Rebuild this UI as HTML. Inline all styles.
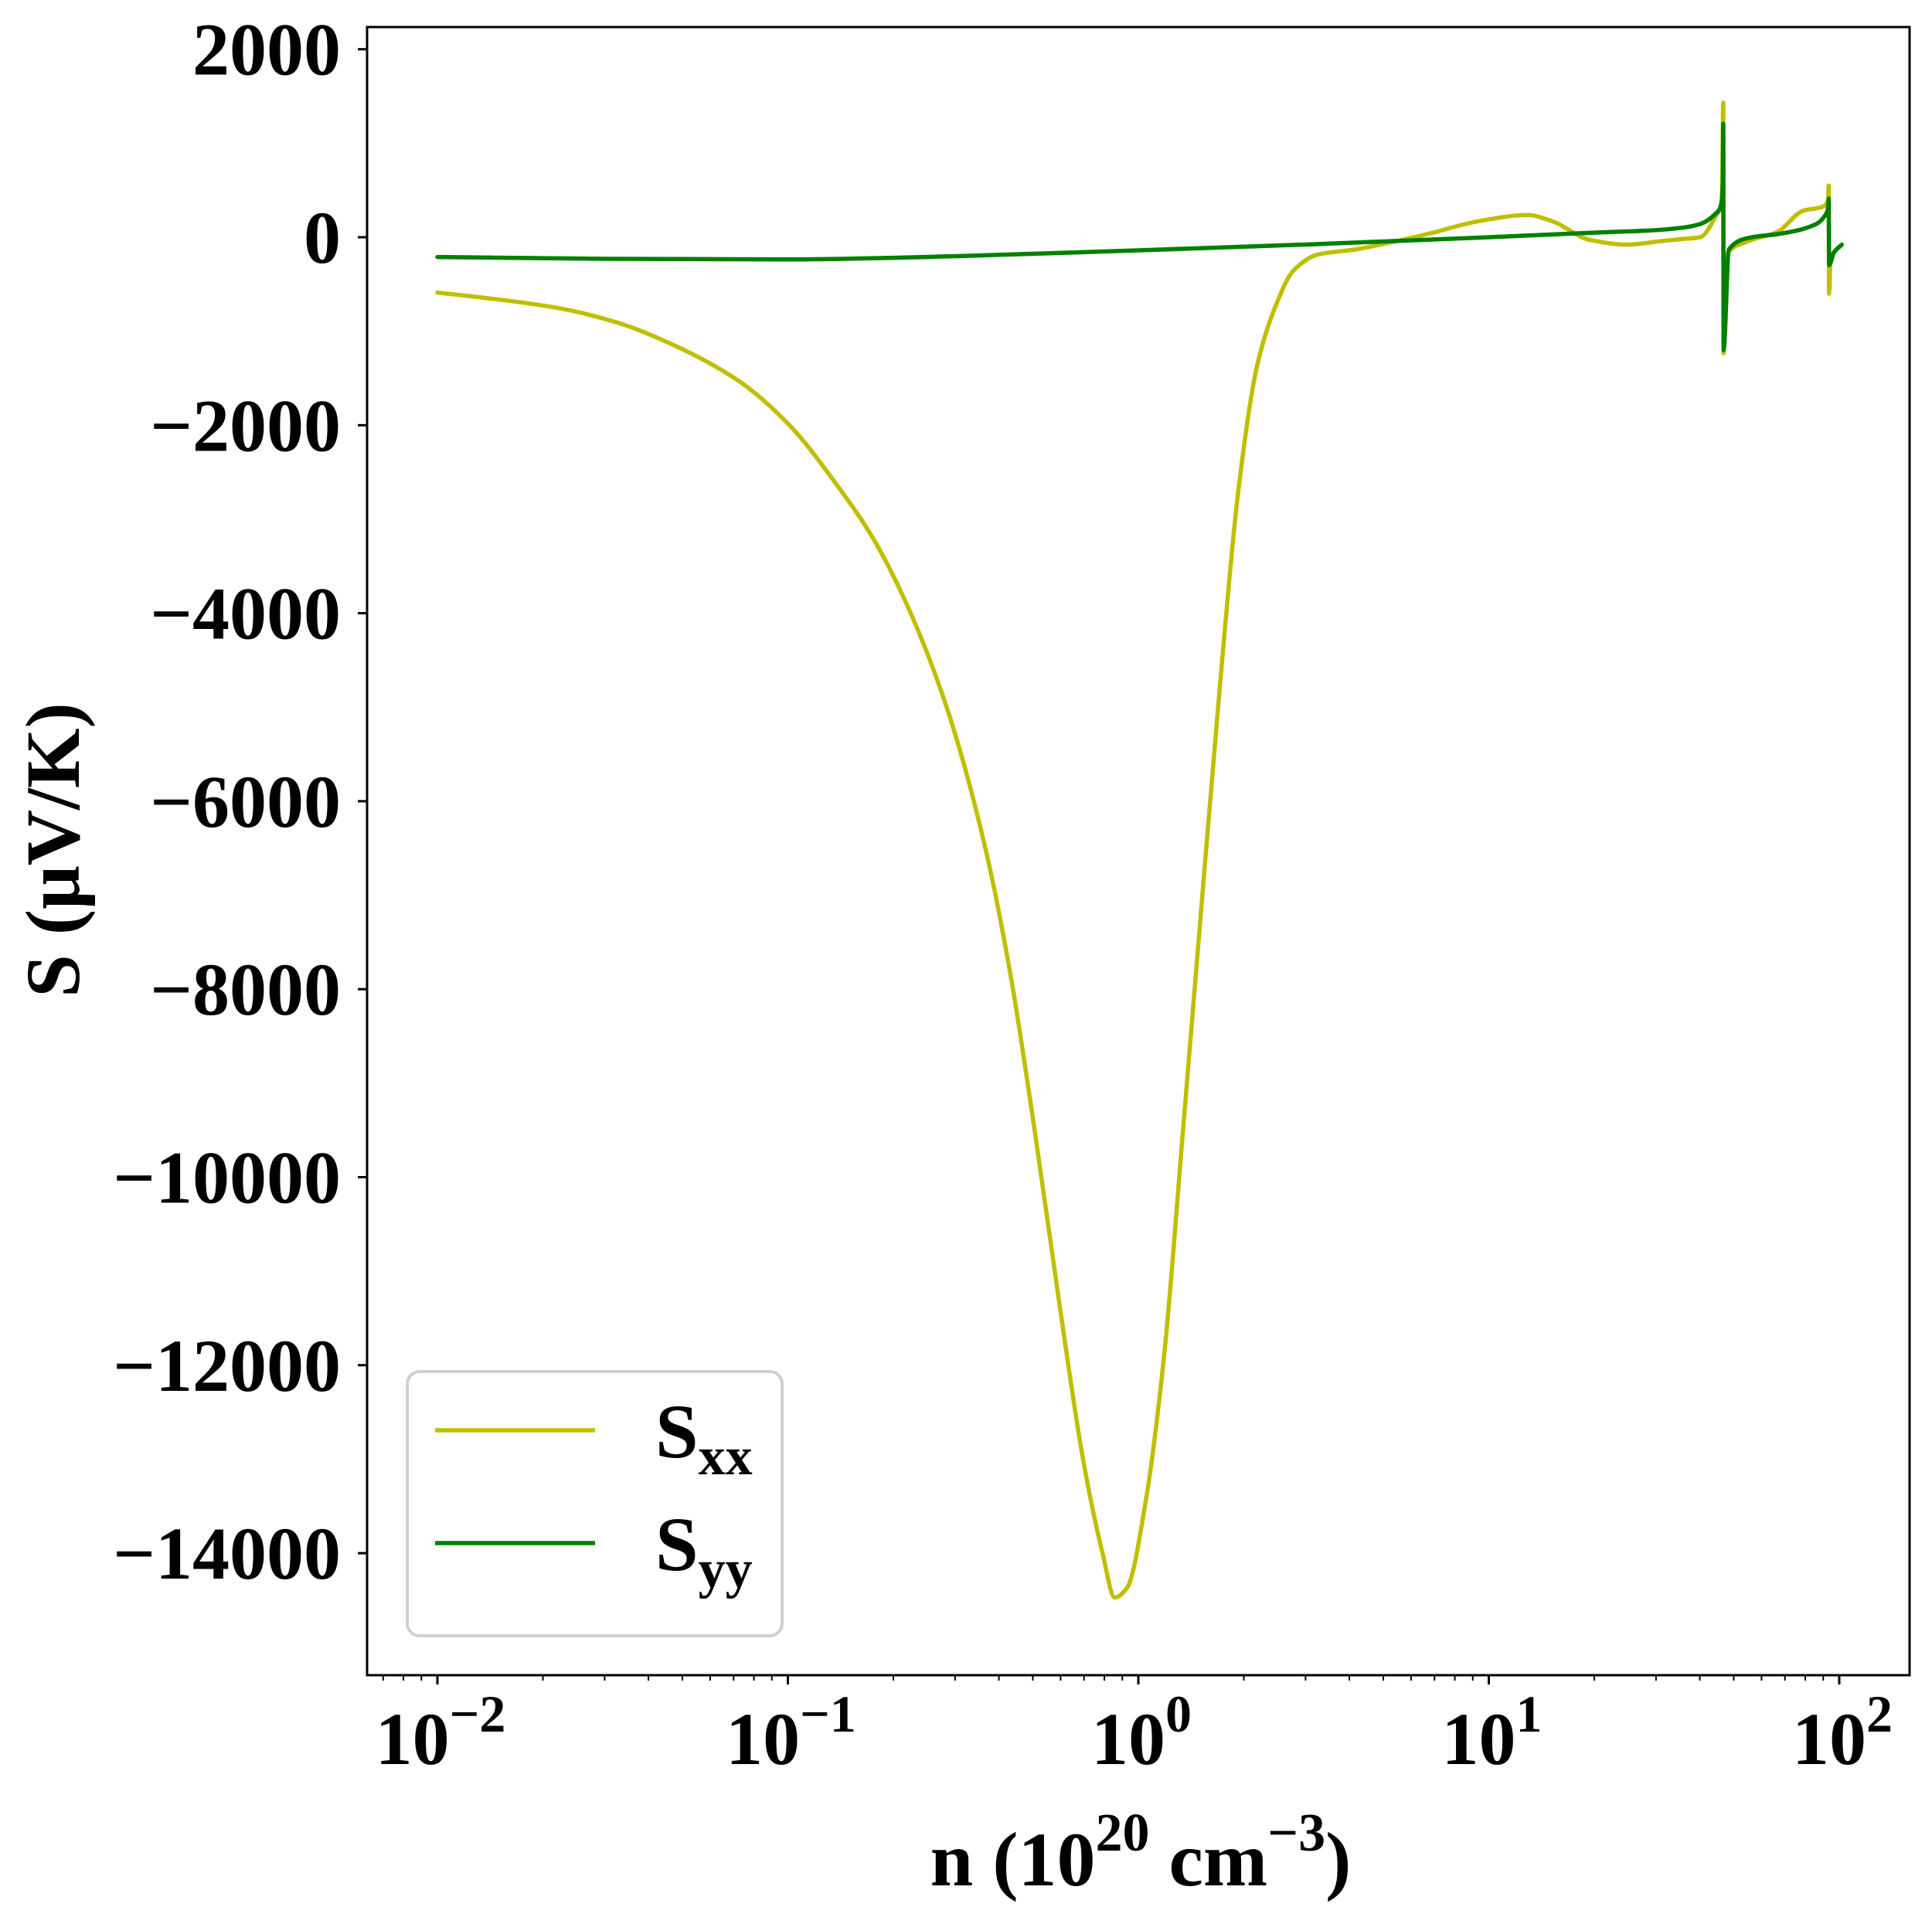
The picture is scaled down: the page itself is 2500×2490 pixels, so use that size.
<!DOCTYPE html>
<html><head><meta charset="utf-8"><style>
html,body{margin:0;padding:0;background:#fff;}
svg{display:block;font-family:"Liberation Serif","DejaVu Serif",serif;font-weight:bold;}
</style></head><body>
<svg id="chart" width="2500" height="2490" viewBox="0 0 2500 2490" xmlns="http://www.w3.org/2000/svg">
<rect x="0" y="0" width="2500" height="2490" fill="#fff"/>
<g id="plot"></g>
<g id="axes"></g>
<g id="legend">
  <rect x="527" y="1775" width="485" height="342" rx="16" fill="#fff" stroke="#d0d0d0" stroke-width="4"/>
  <line x1="563" y1="1851" x2="770" y2="1851" stroke="#bfbf00" stroke-width="5.5"/>
  <text x="848" y="1886" font-size="100">S<tspan font-size="70" dy="22">xx</tspan></text>
  <line x1="563" y1="1997" x2="770" y2="1997" stroke="#008000" stroke-width="5.5"/>
  <text x="848" y="2032" font-size="100">S<tspan font-size="70" dy="22">yy</tspan></text>
</g>
<text x="1476" y="2440" font-size="100" text-anchor="middle">n (10<tspan font-size="70" dy="-45">20</tspan><tspan dy="45"> cm</tspan><tspan font-size="70" dy="-45">−3</tspan><tspan dy="45">)</tspan></text>
<text transform="translate(102,1100) rotate(-90)" x="0" y="0" font-size="100" text-anchor="middle">S (μV/K)</text>
</svg>
<script>
// data (log10 of n in 1e20 cm^-3, S in μV/K)
const sxxLogN = [-2,-1.842,-1.666,-1.49,-1.315,-1.139,-0.998,-0.858,-0.752,-0.647,-0.541,-0.436,-0.366,-0.295,-0.225,-0.155,-0.102,-0.067,-0.032,0.021,0.074,0.127,0.179,0.232,0.285,0.337,0.39,0.443,0.513,0.619,0.724,0.83,0.97,1.111,1.181,1.286,1.392,1.497,1.55,1.603,1.647,1.665,1.669,1.670,1.676,1.735,1.824,1.896,1.956,1.968,1.970,1.971,1.975,1.99,2.007];
const sxxValues = [-589,-655,-746,-904,-1166,-1532,-1990,-2646,-3235,-4021,-5069,-6509,-7819,-9522,-11355,-13058,-14000,-14472,-14367,-13450,-11879,-9522,-7164,-4807,-2711,-1401,-746,-354,-183,-131,-52,39,170,236,170,-26,-79,-39,-20,0,222,400,1430,-1233,-214,-50,58,280,330,400,550,-600,-250,-140,-80];
const syyLogN = [-2,-1.5,-1,-0.5,0,0.5,1,1.32,1.45,1.55,1.603,1.647,1.662,1.668,1.669,1.670,1.685,1.751,1.824,1.934,1.962,1.969,1.970,1.971,1.985,2.007];
const syyValues = [-210,-230,-236,-200,-140,-75,0,52,70,100,140,250,330,600,1208,-1200,-130,0,33,140,247,330,411,-296,-160,-80];
const yTicks = [2000,0,-2000,-4000,-6000,-8000,-10000,-12000,-14000];
const xDecades = [-2,-1,0,1,2];

const L=475,R=2471,T=35,B=2168;
const xmin=-2.2007,xmax=2.2007,ymin=-15298,ymax=2236;
function xs(lg){return L+(lg-xmin)/(xmax-xmin)*(R-L);}
function ys(v){return B-(v-ymin)/(ymax-ymin)*(B-T);}
const NS='http://www.w3.org/2000/svg';
const plot=document.getElementById('plot'), axes=document.getElementById('axes');
function mk(tag,attrs,parent){const e=document.createElementNS(NS,tag);for(const k in attrs)e.setAttribute(k,attrs[k]);parent.appendChild(e);return e;}

// monotone cubic (Fritsch-Carlson) path
function monoPath(X,Y){
  const n=X.length, d=[], m=new Array(n);
  for(let i=0;i<n-1;i++) d.push((Y[i+1]-Y[i])/(X[i+1]-X[i]));
  m[0]=d[0]; m[n-1]=d[n-2];
  for(let i=1;i<n-1;i++){
    if(d[i-1]*d[i]<=0) m[i]=0;
    else { const h0=X[i]-X[i-1], h1=X[i+1]-X[i]; const w1=2*h1+h0, w2=h1+2*h0; m[i]=(w1+w2)/(w1/d[i-1]+w2/d[i]); }
  }
  let s='M'+X[0].toFixed(1)+','+Y[0].toFixed(1);
  for(let i=0;i<n-1;i++){
    const h=(X[i+1]-X[i])/3;
    s+=' C'+(X[i]+h).toFixed(1)+','+(Y[i]+m[i]*h).toFixed(1)+' '+(X[i+1]-h).toFixed(1)+','+(Y[i+1]-m[i+1]*h).toFixed(1)+' '+X[i+1].toFixed(1)+','+Y[i+1].toFixed(1);
  }
  return s;
}
function series(lx,vals,color,name){
  const X=lx.map(xs), Y=vals.map(ys);
  const p=mk('path',{d:monoPath(X,Y),fill:'none',stroke:color,'stroke-width':5.5,'stroke-linejoin':'round','stroke-linecap':'round'},plot);
  
  
}
series(sxxLogN,sxxValues,'#bfbf00','series-sxx');
series(syyLogN,syyValues,'#008000','series-syy');

const fr=mk('rect',{x:L,y:T,width:R-L,height:B-T,fill:'none',stroke:'#000','stroke-width':3},axes);



yTicks.forEach(v=>{
  const y=ys(v);
  const t=mk('line',{x1:L-12,y1:y,x2:L,y2:y,stroke:'#000','stroke-width':3},axes);
  
  
  const tx=mk('text',{x:L-34,y:y+33,'font-size':96,'text-anchor':'end'},axes);
  tx.textContent=(v<0?'−':'')+Math.abs(v);
  
  
});
for(let d=-3;d<=2;d++){
  for(let m=1;m<10;m++){
    const lg=d+Math.log10(m);
    if(lg<xmin||lg>xmax)continue;
    const x=xs(lg);
    const major=m===1;
    const t=mk('line',{x1:x,y1:B,x2:x,y2:B+(major?12:7),stroke:'#000','stroke-width':major?3:2},axes);
    
    
  }
}
xDecades.forEach(d=>{
  const x=xs(d);
  const tx=mk('text',{x:x+4,y:2283,'font-size':96,'text-anchor':'middle'},axes);
  
  
  tx.appendChild(document.createTextNode('10'));
  const s=mk('tspan',{'font-size':68,dy:-42},tx);
  s.textContent=(d<0?'−':'')+Math.abs(d);
});
</script>
</body></html>
